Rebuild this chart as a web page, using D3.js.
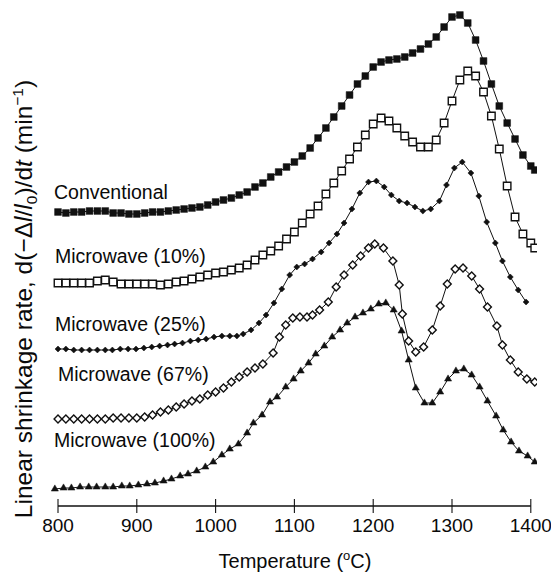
<!DOCTYPE html>
<html>
<head>
<meta charset="utf-8">
<script src="https://cdn.jsdelivr.net/npm/d3@7"></script>
<style>
  body { margin: 0; background: #fff; }
  svg { display: block; }
  text { font-family: "Liberation Sans", Arial, Helvetica, sans-serif; fill: #0a0a0a; }
</style>
</head>
<body>
<svg id="chart" width="551" height="578"></svg>
<script>
// temperatures (deg C) and shrinkage rates (arbitrary, curves offset as in the figure)
var tempsGrid = d3.range(800, 1401, 10).concat([1405]);

var convRate = [28.8,28.7,28.8,28.8,28.9,28.9,28.9,28.7,28.7,28.6,
  28.6,28.7,28.8,28.8,28.9,29.0,29.1,29.2,29.3,29.5,
  29.8,30.0,30.2,30.5,30.8,31.3,31.7,32.3,32.8,33.3,
  33.8,34.4,35.2,36.2,37.2,38.3,39.4,40.5,41.6,42.4,
  43.3,43.8,44.0,44.1,44.3,44.7,45.1,45.6,46.3,47.3,
  48.3,48.5,47.7,46.0,43.9,41.6,39.4,37.7,36.1,34.5,
  33.4,33.0];

var mw10Rate = [21.7,21.7,21.7,21.7,21.7,21.9,22.0,21.8,21.6,21.6,
  21.6,21.6,21.6,21.5,21.6,21.8,21.9,22.1,22.3,22.5,
  22.7,22.8,23.0,23.2,23.5,24.0,24.5,24.9,25.4,26.1,
  26.8,27.7,28.6,29.4,30.6,31.7,32.9,34.1,35.3,36.5,
  37.6,38.2,37.9,37.2,36.4,35.8,35.3,35.3,36.0,37.7,
  39.9,42.0,42.9,42.4,40.8,38.4,35.1,31.4,28.3,26.6,
  25.7,25.2];

var mw25Temps = [800,810,820,830,840,850,860,869,879,889,899,909,919,929,939,948,958,968,978,988,998,1008,1018,1027,
  1035,1045,1055,1064,1074,1084,1094,1103,1113,1123,1134,1144,1154,1163,1173,1183,1194,1204,1214,1223,1233,1243,
  1253,1263,1273,1284,1293,1303,1313,1324,1334,1344,1355,1364,1374,1384,1394];
var mw25Rate = [15.1,15.1,15.0,15.0,15.0,15.0,15.0,15.0,15.1,15.1,15.1,15.2,15.3,15.4,15.5,15.6,15.7,15.9,16.0,16.1,16.3,16.4,16.4,16.4,
  16.6,17.0,17.7,18.5,19.7,21.1,22.5,23.3,23.6,24.1,24.8,25.7,26.6,27.7,29.1,30.7,31.8,31.9,31.3,30.5,29.9,29.7,
  29.3,28.9,29.1,29.9,31.5,33.2,33.8,32.7,30.4,27.8,25.7,23.9,22.3,21.0,19.8];

var mw67Temps = [800,810,820,830,840,850,860,870,880,890,900,910,920,930,940,950,960,970,980,990,1000,1010,1020,1030,1040,1050,1060,
  1073,1081,1089,1098,1107,1116,1123,1132,1143,1153,1163,1174,1184,1194,1202,1213,1225,1233,1237,1245,
  1254,1264,1275,1285,1294,1304,1314,1325,1335,1345,1357,1364,1374,1384,1395,1405];
var mw67Rate = [8.1,8.1,8.1,8.1,8.1,8.1,8.1,8.2,8.2,8.2,8.2,8.3,8.5,8.8,9.0,9.3,9.6,9.9,10.1,10.5,10.8,11.2,11.8,12.3,12.8,13.2,13.6,
  14.7,16.3,17.5,18.2,18.3,18.3,18.5,19.0,19.8,21.3,22.5,23.5,24.4,25.2,25.6,25.2,23.9,21.5,18.6,15.9,
  14.8,15.3,17.0,19.4,21.6,23.1,23.2,22.4,21.1,19.3,17.4,15.5,14.0,12.8,12.1,11.8];

var mw100Temps = [796,807,817,828,839,849,860,870,881,891,902,913,923,934,944,955,965,976,987,997,1008,1018,1029,1040,1048,1059,1069,
  1078,1089,1099,1108,1118,1127,1138,1148,1158,1167,1177,1187,1197,1207,1216,1226,1236,1245,1254,1265,
  1275,1285,1295,1305,1315,1325,1335,1345,1356,1365,1375,1385,1396,1405];
var mw100Rate = [1.1,1.2,1.2,1.3,1.3,1.3,1.3,1.3,1.4,1.4,1.5,1.6,1.7,1.9,2.1,2.4,2.6,2.9,3.3,3.8,4.5,5.1,5.6,6.7,7.7,8.5,9.8,
  10.3,11.3,12.1,12.9,13.7,14.6,15.4,16.3,17.0,17.7,18.3,18.7,19.1,19.6,19.7,19.0,16.9,14.0,11.2,9.7,
  9.7,10.8,12.1,12.9,13.1,12.5,11.3,9.9,8.4,7.0,5.8,4.9,4.4,3.8];

var seriesNames = ["Conventional", "Microwave (10%)", "Microwave (25%)", "Microwave (67%)", "Microwave (100%)"];
var xTicks = [800, 900, 1000, 1100, 1200, 1300, 1400];

var svg = d3.select("#chart");
var x = d3.scaleLinear().domain([800, 1400]).range([58, 530.8]);
var y = d3.scaleLinear().domain([0, 50]).range([500, 0]);

function zip(t, v) { return t.map(function(d, i) { return [d, v[i]]; }); }

var series = [
  { name: seriesNames[0], pts: zip(tempsGrid, convRate), sym: d3.symbolSquare, size: 46, fill: "#111", rot: 0, lx: 54, ly: 199 },
  { name: seriesNames[1], pts: zip(tempsGrid, mw10Rate), sym: d3.symbolSquare, size: 56, fill: "#fff", rot: 0, lx: 55, ly: 263 },
  { name: seriesNames[2], pts: zip(mw25Temps, mw25Rate), sym: d3.symbolSquare, size: 18, fill: "#111", rot: 45, lx: 55, ly: 331 },
  { name: seriesNames[3], pts: zip(mw67Temps, mw67Rate), sym: d3.symbolSquare, size: 31, fill: "#fff", rot: 45, lx: 58, ly: 381 },
  { name: seriesNames[4], pts: zip(mw100Temps, mw100Rate), sym: d3.symbolTriangle, size: 22, fill: "#111", rot: 0, lx: 54, ly: 447 }
];

svg.append("clipPath").attr("id", "clip")
  .append("rect").attr("x", 0).attr("y", 0).attr("width", 537).attr("height", 578);

var plot = svg.append("g").attr("clip-path", "url(#clip)");

var line = d3.line()
  .x(function(d) { return x(d[0]); })
  .y(function(d) { return y(d[1]); });

series.forEach(function(s) {
  var g = plot.append("g");
  g.append("path")
    .attr("d", line(s.pts))
    .attr("fill", "none")
    .attr("stroke", "#111")
    .attr("stroke-width", 1);
  g.selectAll("path.m")
    .data(s.pts)
    .enter().append("path")
    .attr("class", "m")
    .attr("d", d3.symbol().type(s.sym).size(s.size))
    .attr("transform", function(d) { return "translate(" + x(d[0]) + "," + y(d[1]) + ") rotate(" + s.rot + ")"; })
    .attr("fill", s.fill)
    .attr("stroke", "#111")
    .attr("stroke-width", s.fill === "#fff" ? 1.4 : 0.5);

  svg.append("text")
    .attr("x", s.lx)
    .attr("y", s.ly)
    .attr("font-size", 19.5)
    .text(s.name);
});

// x axis
var axis = svg.append("g").attr("transform", "translate(0,506)");
axis.append("line")
  .attr("x1", x(800)).attr("x2", x(1400))
  .attr("stroke", "#111").attr("stroke-width", 1.3);
axis.selectAll("line.tick")
  .data(xTicks)
  .enter().append("line")
  .attr("class", "tick")
  .attr("x1", function(d) { return x(d); })
  .attr("x2", function(d) { return x(d); })
  .attr("y1", -7).attr("y2", 7)
  .attr("stroke", "#111").attr("stroke-width", 1.1);
axis.selectAll("text")
  .data(xTicks)
  .enter().append("text")
  .attr("x", function(d) { return x(d); })
  .attr("y", 25.5)
  .attr("text-anchor", "middle")
  .attr("font-size", 19)
  .text(function(d) { return d; });

var xt = svg.append("text")
  .attr("x", 295).attr("y", 568)
  .attr("text-anchor", "middle")
  .attr("font-size", 20);
xt.append("tspan").text("Temperature (");
xt.append("tspan").attr("font-size", 13).attr("dy", -8).text("o");
xt.append("tspan").attr("dy", 8).text("C)");

// y title
var yt = svg.append("text")
  .attr("transform", "translate(32,299) rotate(-90)")
  .attr("text-anchor", "middle")
  .attr("font-size", 24.5);
yt.append("tspan").text("Linear shrinkage rate, d(\u2212\u0394");
yt.append("tspan").attr("font-style", "italic").text("l");
yt.append("tspan").text("/");
yt.append("tspan").attr("font-style", "italic").text("l");
yt.append("tspan").attr("font-size", 15.5).attr("dy", 5).text("0");
yt.append("tspan").attr("dy", -5).text(")/d");
yt.append("tspan").attr("font-style", "italic").text("t");
yt.append("tspan").text(" (min");
yt.append("tspan").attr("font-size", 15.5).attr("dy", -9).text("\u22121");
yt.append("tspan").attr("dy", 9).text(")");
</script>
</body>
</html>
